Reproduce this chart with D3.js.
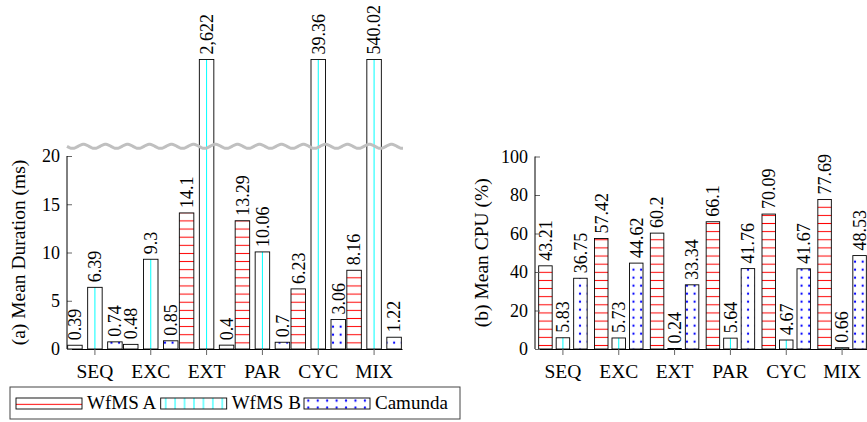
<!DOCTYPE html>
<html>
<head>
<meta charset="utf-8">
<script src="https://cdn.jsdelivr.net/npm/d3@7"></script>
<style>
  body { margin: 0; background: #fff; }
  svg text { font-family: 'Liberation Serif', 'DejaVu Serif', serif; fill: #000; }
</style>
</head>
<body>
<script>
const cats = ["SEQ", "EXC", "EXT", "PAR", "CYC", "MIX"];
const series = ["WfMS A", "WfMS B", "Camunda"];

// (a) mean duration in ms
const durA = [0.39, 0.48, 14.1, 13.29, 6.23, 8.16];
const durB = [6.39, 9.3, 2622, 10.06, 39.36, 540.02];
const durC = [0.74, 0.85, 0.4, 0.7, 3.06, 1.22];
const durTicks = [0, 5, 10, 15, 20];

// (b) mean cpu in %
const cpuA = [43.21, 57.42, 60.2, 66.1, 70.09, 77.69];
const cpuB = [5.83, 5.73, 0.24, 5.64, 4.67, 0.66];
const cpuC = [36.75, 44.62, 33.34, 41.76, 41.67, 48.53];
const cpuTicks = [0, 20, 40, 60, 80, 100];

const width = 867, height = 422;
const fs = 18;      // numbers
const fsWord = 19.5; // titles, categories
const font = "'Liberation Serif', 'DejaVu Serif', serif";
const fmt = d3.format(",");

const svg = d3.select("body").append("svg")
    .attr("width", width)
    .attr("height", height)
    .attr("font-family", font);
const defs = svg.append("defs");

// horizontal red lines
function hlines(id, phase) {
    const h = 8.13;
    const p = defs.append("pattern").attr("id", id)
        .attr("patternUnits", "userSpaceOnUse")
        .attr("width", 10).attr("height", h)
        .attr("patternTransform", `translate(0,${phase - h / 2})`);
    p.append("rect").attr("width", 10).attr("height", h).attr("fill", "#fff");
    p.append("line").attr("x1", 0).attr("x2", 10).attr("y1", h / 2).attr("y2", h / 2)
        .attr("stroke", "#ff0000").attr("stroke-width", 1);
}
// vertical cyan lines
function vlines(id, phase, w) {
    const p = defs.append("pattern").attr("id", id)
        .attr("patternUnits", "userSpaceOnUse")
        .attr("width", w).attr("height", 10)
        .attr("patternTransform", `translate(${phase - w / 2},0)`);
    p.append("rect").attr("width", w).attr("height", 10).attr("fill", "#fff");
    p.append("line").attr("x1", w / 2).attr("x2", w / 2).attr("y1", 0).attr("y2", 10)
        .attr("stroke", "#00ffff").attr("stroke-width", 1);
}
// blue dots
function dots(id, px, py, w, h) {
    const p = defs.append("pattern").attr("id", id)
        .attr("patternUnits", "userSpaceOnUse")
        .attr("width", w).attr("height", h)
        .attr("patternTransform", `translate(${px - w / 2},${py - h / 2})`);
    p.append("rect").attr("width", w).attr("height", h).attr("fill", "#fff");
    p.append("circle").attr("cx", w / 2).attr("cy", h / 2).attr("r", 1.15).attr("fill", "#0000ff");
}

hlines("hA_l", 1.4);
hlines("hA_r", 4.0);
hlines("hA_leg", 404.3);
dots("dC_l", 4.5, 6.7, 7.64, 8);
dots("dC_r", 7.0, 5.7, 7.64, 8);
dots("dC_leg", 308.3, 400.7, 9.43, 7);
vlines("vB_leg", 165.7, 9.43);

function drawChart(o) {
    const x = d3.scaleBand().domain(cats).range([o.x0, o.x0 + 335]);
    const off = d3.scalePoint().domain(series).range([-o.gap, o.gap]);
    const y = d3.scaleLinear().domain([0, o.ymax]).range([349, o.ytop]);
    const topTick = o.ticks[o.ticks.length - 1];
    const cx = c => x(c) + x.bandwidth() / 2;

    const rows = [];
    cats.forEach((c, i) => {
        o.values.forEach((vals, j) => {
            rows.push({ cat: c, s: series[j], j: j, v: vals[i] });
        });
    });
    const top = d => y(Math.min(d.v, o.ymax));

    const g = svg.append("g");
    const bars = g.selectAll("g.bar").data(rows).join("g").attr("class", "bar");
    bars.append("rect")
        .attr("x", d => cx(d.cat) + off(d.s) - o.bw / 2)
        .attr("y", top)
        .attr("width", o.bw)
        .attr("height", d => y(0) - top(d))
        .attr("fill", d => d.j === 0 ? `url(#${o.pA})` : d.j === 2 ? `url(#${o.pC})` : "#fff");
    bars.filter(d => d.j === 1).append("line")
        .attr("x1", d => cx(d.cat) + off(d.s))
        .attr("x2", d => cx(d.cat) + off(d.s))
        .attr("y1", top)
        .attr("y2", y(0))
        .attr("stroke", "#00ffff")
        .attr("stroke-width", 1);
    bars.append("rect")
        .attr("x", d => cx(d.cat) + off(d.s) - o.bw / 2)
        .attr("y", top)
        .attr("width", o.bw)
        .attr("height", d => y(0) - top(d))
        .attr("fill", "none")
        .attr("stroke", "#000")
        .attr("stroke-width", 0.9);
    bars.append("text")
        .attr("transform", d => `translate(${cx(d.cat) + off(d.s)},${top(d) - 5}) rotate(-90)`)
        .attr("dy", "0.35em")
        .attr("font-size", fs)
        .text(d => fmt(d.v));

    // axes
    const xAxis = d3.axisBottom(x).tickSize(6).tickSizeOuter(0).tickPadding(9);
    const gx = svg.append("g").attr("transform", "translate(0,349)").call(xAxis);
    gx.attr("font-family", font).attr("font-size", fsWord);
    gx.select(".domain").attr("stroke", "#000");
    gx.selectAll(".tick line").attr("stroke", "#666");

    const yAxis = d3.axisLeft(y).tickValues(o.ticks).tickSize(-5).tickPadding(7)
        .tickFormat(d3.format("d"));
    const gy = svg.append("g").attr("transform", `translate(${o.x0},0)`).call(yAxis);
    gy.attr("font-family", font).attr("font-size", fs);
    gy.select(".domain").remove();
    gy.selectAll(".tick line").attr("stroke", "#666");
    gy.append("line")
        .attr("x1", 0).attr("x2", 0)
        .attr("y1", y(0)).attr("y2", y(topTick))
        .attr("stroke", "#000");

    svg.append("text")
        .attr("transform", `translate(${o.labelX},${(y(0) + y(topTick)) / 2}) rotate(-90)`)
        .attr("text-anchor", "middle")
        .attr("font-size", fsWord)
        .text(o.label);

    if (o.breakAt) {
        const yb = y(o.breakAt);
        const pts = d3.range(o.x0, o.x0 + 337, 1).map(px => [px, yb + 2 * Math.sin(2 * Math.PI * (px - o.x0) / 22)]);
        svg.append("path")
            .attr("d", d3.line()(pts))
            .attr("fill", "none")
            .attr("stroke", "#c0c0c0")
            .attr("stroke-width", 3);
    }
}

drawChart({
    x0: 67, ymax: 30, ytop: 59.5, ticks: durTicks, bw: 14.5, gap: 20,
    values: [durA, durB, durC], pA: "hA_l", pC: "dC_l",
    label: "(a) Mean Duration (ms)", labelX: 25, breakAt: 21
});
drawChart({
    x0: 535, ymax: 100, ytop: 156.5, ticks: cpuTicks, bw: 13.5, gap: 17.5,
    values: [cpuA, cpuB, cpuC], pA: "hA_r", pC: "dC_r",
    label: "(b) Mean CPU (%)", labelX: 488
});

// legend
const leg = svg.append("g");
leg.append("rect")
    .attr("x", 10).attr("y", 387).attr("width", 450).attr("height", 32)
    .attr("fill", "#fff").attr("stroke", "#444").attr("stroke-width", 1);
const legFills = ["url(#hA_leg)", "url(#vB_leg)", "url(#dC_leg)"];
const swX = [16, 160.7, 304];
series.forEach((s, i) => {
    leg.append("rect")
        .attr("x", swX[i]).attr("y", 398).attr("width", 66).attr("height", 11)
        .attr("fill", legFills[i]).attr("stroke", "#000").attr("stroke-width", 0.9);
    leg.append("text")
        .attr("x", swX[i] + 71).attr("y", 408.5)
        .attr("font-size", 19)
        .text(s);
});
</script>
</body>
</html>
